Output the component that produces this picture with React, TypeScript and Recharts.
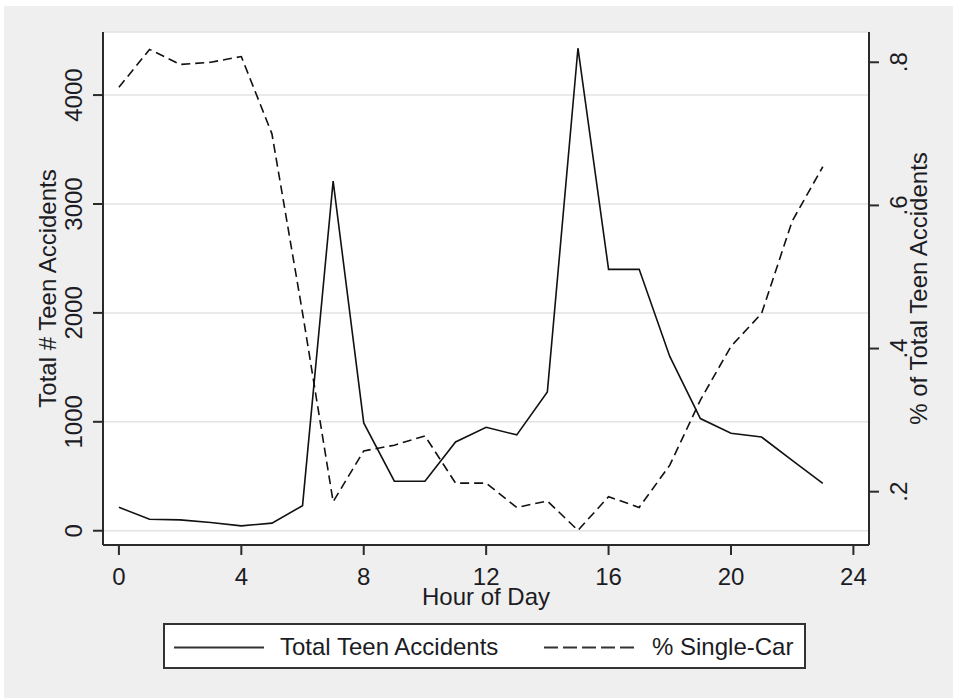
import React from 'react';
import { ComposedChart, Line, XAxis, YAxis, CartesianGrid } from 'recharts';

// teen accidents by hour of day
const hours = [0, 1, 2, 3, 4, 5, 6, 7, 8, 9, 10, 11, 12, 13, 14, 15, 16, 17, 18, 19, 20, 21, 22, 23];
const totalAccidents = [215, 105, 100, 75, 45, 70, 230, 3210, 990, 455, 455, 815, 950, 880, 1275, 4430, 2400, 2400, 1600, 1030, 895, 860, 645, 435];
const singleCarShare = [0.765, 0.818, 0.797, 0.8, 0.808, 0.7, 0.45, 0.186, 0.257, 0.265, 0.278, 0.212, 0.212, 0.178, 0.187, 0.146, 0.193, 0.178, 0.237, 0.328, 0.403, 0.449, 0.578, 0.654];

const hourTicks = [0, 4, 8, 12, 16, 20, 24];
const countTicks = [0, 1000, 2000, 3000, 4000];
const shareTicks = [0.2, 0.4, 0.6, 0.8];

const seriesNames = ['Total Teen Accidents', '% Single-Car'];

const data = hours.map((hour, i) => ({
  hour,
  total: totalAccidents[i],
  single: singleCarShare[i],
}));

const FONT = '"Liberation Sans", Arial, Helvetica, sans-serif';
const INK = '#1c1c24';
const AXIS = '#2a2a2a';
const BG = '#efefef';

const W = 953;
const H = 698;
const margin = { top: 32, right: 24, bottom: 93, left: 43 };
const plotLeft = 103;
const plotRight = 869;
const plotTop = 32;
const plotBottom = 545;

const shareLabel = (v: number) => v.toFixed(1).replace(/^0/, '');

function LeftTick(props: any) {
  const { x, y, payload } = props;
  const cx = x - 20;
  return (
    <text x={cx} y={y} dy="0.36em" textAnchor="middle" transform={`rotate(-90, ${cx}, ${y})`}
      fontFamily={FONT} fontSize={24} fill={INK}>
      {payload.value}
    </text>
  );
}

function RightTick(props: any) {
  const { x, y, payload } = props;
  const cx = x + 19;
  return (
    <text x={cx} y={y} dy="0.36em" textAnchor="middle" transform={`rotate(-90, ${cx}, ${y})`}
      fontFamily={FONT} fontSize={24} fill={INK}>
      {shareLabel(payload.value)}
    </text>
  );
}

function BottomTick(props: any) {
  const { x, y, payload } = props;
  return (
    <text x={x} y={y + 30} textAnchor="middle" fontFamily={FONT} fontSize={24} fill={INK}>
      {payload.value}
    </text>
  );
}

export default function App() {
  const midY = (plotTop + plotBottom) / 2;
  const midX = (plotLeft + plotRight) / 2;
  return (
    <div style={{ position: 'absolute', left: 0, top: 0, width: W, height: H, background: '#fff' }}>
      <div style={{ position: 'absolute', left: 4, top: 6, width: W - 4, height: H - 6, background: BG }} />
      <div style={{ position: 'absolute', left: 0, top: 0 }}>
        <ComposedChart width={W} height={H} data={data} margin={margin}>
          <CartesianGrid yAxisId="left" vertical={false} fill="#ffffff" stroke="#e3e3e3" strokeWidth={1.5} />
          <XAxis
            dataKey="hour"
            type="number"
            domain={[-0.52, 24.51]}
            ticks={hourTicks}
            allowDataOverflow
            height={60}
            tickSize={10}
            tickMargin={0}
            stroke={AXIS}
            strokeWidth={2}
            tick={<BottomTick />}
          />
          <YAxis
            yAxisId="left"
            orientation="left"
            domain={[-131, 4579]}
            ticks={countTicks}
            allowDataOverflow
            width={60}
            tickSize={10}
            tickMargin={0}
            stroke={AXIS}
            strokeWidth={2}
            tick={<LeftTick />}
          />
          <YAxis
            yAxisId="right"
            orientation="right"
            domain={[0.1255, 0.8423]}
            ticks={shareTicks}
            allowDataOverflow
            width={60}
            tickSize={10}
            tickMargin={0}
            stroke={AXIS}
            strokeWidth={2}
            tick={<RightTick />}
          />
          <Line
            yAxisId="left"
            dataKey="total"
            name={seriesNames[0]}
            type="linear"
            stroke="#111"
            strokeWidth={1.6}
            dot={false}
            isAnimationActive={false}
          />
          <Line
            yAxisId="right"
            dataKey="single"
            name={seriesNames[1]}
            type="linear"
            stroke="#111"
            strokeWidth={1.6}
            strokeDasharray="9 5"
            dot={false}
            isAnimationActive={false}
          />
        </ComposedChart>
      </div>
      <svg width={W} height={H} style={{ position: 'absolute', left: 0, top: 0, pointerEvents: 'none' }}>
        <g fontFamily={FONT} fontSize={24} fill={INK}>
          <text x={47} y={midY} dy="0.36em" textAnchor="middle" transform={`rotate(-90, 47, ${midY})`}>
            Total # Teen Accidents
          </text>
          <text x={918} y={midY} dy="0.36em" textAnchor="middle" transform={`rotate(-90, 918, ${midY})`}>
            % of Total Teen Accidents
          </text>
          <text x={midX} y={605} textAnchor="middle">Hour of Day</text>
        </g>
        <rect x={164} y={624} width={641} height={44} fill="#fff" stroke="#333" strokeWidth={2} />
        <line x1={174} x2={264} y1={647.5} y2={647.5} stroke="#333" strokeWidth={2} />
        <line x1={544} x2={634} y1={647.5} y2={647.5} stroke="#333" strokeWidth={2} strokeDasharray="14 5" />
        <g fontFamily={FONT} fontSize={24} fill={INK}>
          <text x={280} y={655}>{seriesNames[0]}</text>
          <text x={652} y={655}>{seriesNames[1]}</text>
        </g>
      </svg>
    </div>
  );
}
